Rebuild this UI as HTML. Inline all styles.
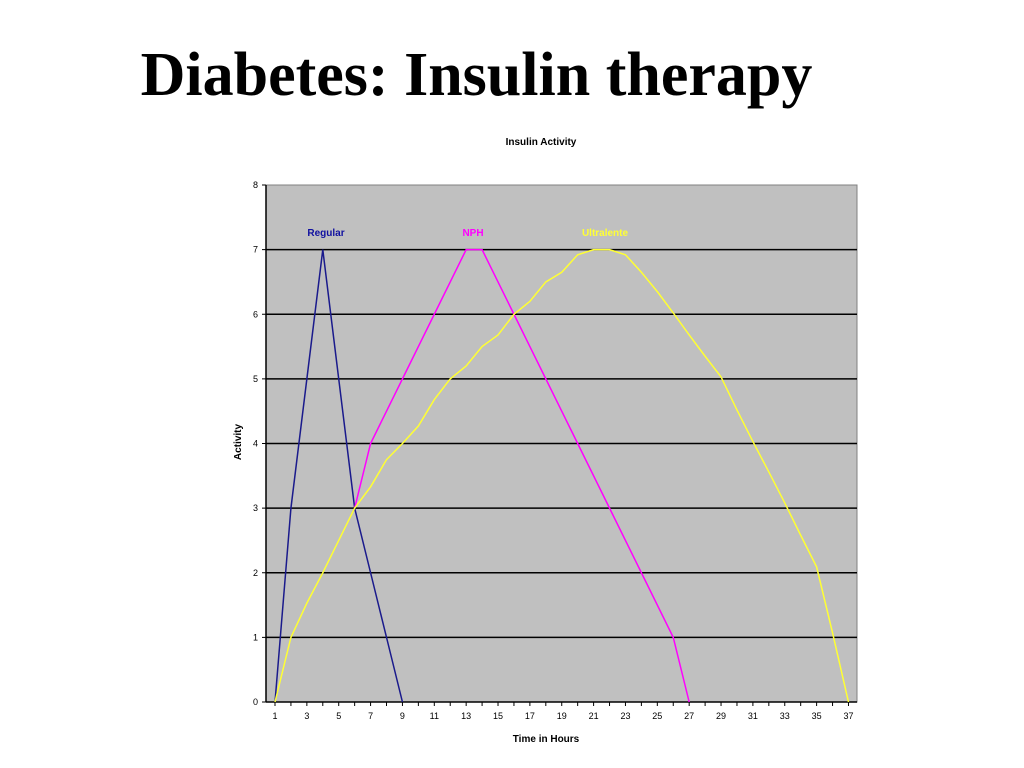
<!DOCTYPE html>
<html><head><meta charset="utf-8"><style>
body{margin:0;background:#fff;width:1024px;height:768px;overflow:hidden;}
h1{position:absolute;left:0;top:40px;width:953px;margin:0;text-align:center;font:bold 62px/71px "Liberation Serif",serif;color:#000;white-space:nowrap;}
</style></head><body>
<h1>Diabetes: Insulin therapy</h1>
<svg id="chart" width="1024" height="768" style="position:absolute;left:0;top:0" font-family="Liberation Sans, sans-serif"></svg>
<script>
const hours=[1,2,3,4,5,6,7,8,9,10,11,12,13,14,15,16,17,18,19,20,21,22,23,24,25,26,27,28,29,30,31,32,33,34,35,36,37];
const regularHours=[1,2,3,4,5,6,7,8,9];
const regularValues=[0,3,5,7,5,3,2,1,0];
const nphHours=[6,7,8,9,10,11,12,13,14,15,16,17,18,19,20,21,22,23,24,25,26,27];
const nphValues=[3,4,4.5,5,5.5,6,6.5,7,7,6.5,6,5.5,5,4.5,4,3.5,3,2.5,2,1.5,1,0];
const ultraValues=[0,1,1.53,2,2.5,3,3.33,3.75,4,4.27,4.68,5,5.2,5.5,5.68,6,6.2,6.5,6.65,6.92,7,7,6.92,6.65,6.35,6.02,5.68,5.35,5.03,4.52,4.03,3.56,3.08,2.58,2.09,1.07,0];
const yTicks=[0,1,2,3,4,5,6,7,8];
const xTickLabels=[1,3,5,7,9,11,13,15,17,19,21,23,25,27,29,31,33,35,37];
const NS='http://www.w3.org/2000/svg';
const svg=document.getElementById('chart');
const L=266,R=857,T=185,B=702;
const xs=h=>275+(h-1)*(R-L)/37.1;
const ys=v=>B-v*(B-T)/8;
function mk(t,a,p){const e=document.createElementNS(NS,t);for(const k in a)e.setAttribute(k,a[k]);(p||svg).appendChild(e);return e;}
let bg=mk('rect',{x:L,y:T,width:R-L,height:B-T,fill:'#c0c0c0',stroke:'#808080'});


yTicks.forEach(v=>{
  if(v>0&&v<8){let g=mk('line',{x1:L,x2:R,y1:ys(v),y2:ys(v),stroke:'#000','stroke-width':1.5});
  
  }
  mk('line',{x1:L-4,x2:L,y1:ys(v),y2:ys(v),stroke:'#000'});
  let t=mk('text',{x:L-8,y:ys(v)+3,'font-size':9,'text-anchor':'end'});t.textContent=v;
  
  
});
mk('line',{x1:L,x2:L,y1:T,y2:B,stroke:'#000','stroke-width':1.5});
mk('line',{x1:L,x2:R,y1:B,y2:B,stroke:'#000','stroke-width':1.5});
hours.forEach(h=>mk('line',{x1:xs(h),x2:xs(h),y1:B,y2:B+4,stroke:'#000'}));
xTickLabels.forEach(h=>{let t=mk('text',{x:xs(h),y:B+17,'font-size':9,'text-anchor':'middle'});t.textContent=h;
  
  });
function line(hs,vs,c,name){let p=mk('polyline',{points:hs.map((h,i)=>xs(h)+','+ys(vs[i])).join(' '),fill:'none',stroke:c,'stroke-width':1.5});
  
  }
line(regularHours,regularValues,'#1a1a8c','regular-line');
line(nphHours,nphValues,'#ff00ff','nph-line');
line(hours,ultraValues,'#ffff33','ultralente-line');
function lab(x,y,s,c,name,extra){let t=mk('text',Object.assign({x:x,y:y,'font-size':10,'font-weight':'bold','text-anchor':'middle',fill:c},extra||{}));t.textContent=s;
  
  return t;}
lab(326,236,'Regular','#1010a0','regular-label');
lab(473,236,'NPH','#ff00ff','nph-label');
lab(605,236,'Ultralente','#ffff33','ultralente-label');
lab(541,145,'Insulin Activity','#000','chart-title');
lab(546,742,'Time in Hours','#000','x-axis-title');
lab(0,0,'Activity','#000','y-axis-title',{transform:'translate(241,442) rotate(-90)'});
</script>
</body></html>
